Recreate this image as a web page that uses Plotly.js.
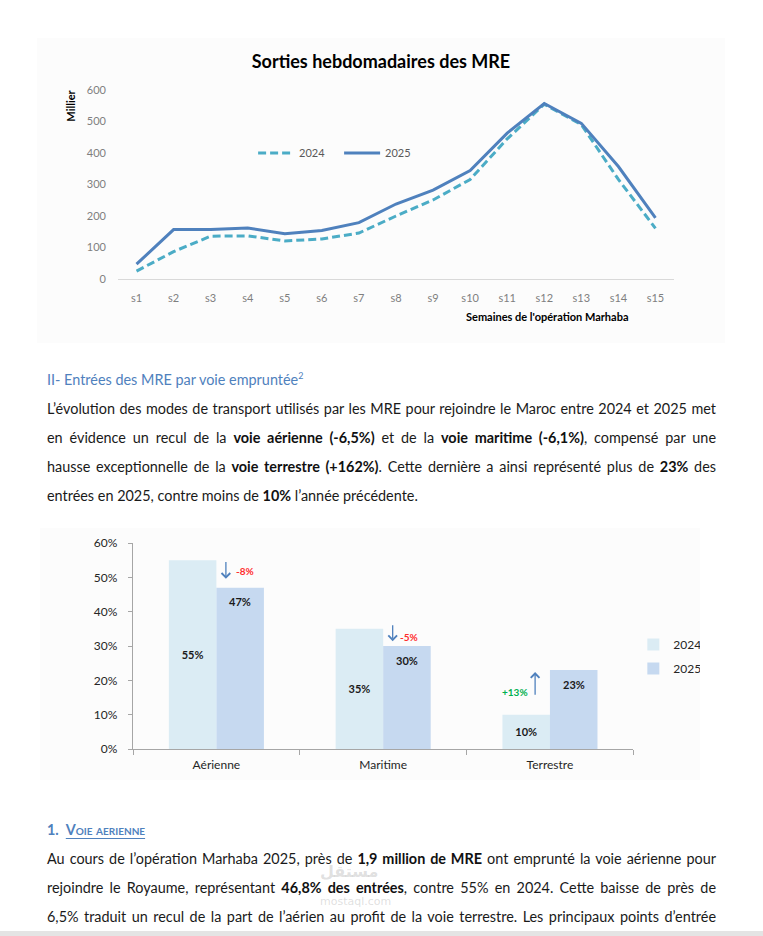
<!DOCTYPE html>
<html><head><meta charset="utf-8">
<script src="https://cdn.plot.ly/plotly-3.0.1.min.js"></script>
<style>
html,body{margin:0;padding:0;background:#fff;}
body{width:763px;height:936px;overflow:hidden;position:relative;font-family:Lato,'Open Sans',sans-serif;}
.ln{position:absolute;left:47px;width:669px;font-size:15px;line-height:29px;color:#1a1a1a;}
.j{text-align:justify;text-align-last:justify;}
.ln b{font-weight:700;color:#111;}
#c1{position:absolute;left:37px;top:38px;width:688px;height:305px;}
#c2{position:absolute;left:40px;top:528px;width:660px;height:252px;}
.h2{position:absolute;left:47px;font-size:15px;line-height:29px;color:#4f81bd;}
.h2 sup{font-size:9px;vertical-align:6px;line-height:0;}
.h3{position:absolute;left:47px;font-size:15px;line-height:29px;color:#4f81bd;font-weight:700;}
.h3 .sc{margin-left:7px;font-variant:small-caps;text-decoration:underline;text-underline-offset:3px;}
.wm{position:absolute;left:320px;top:864px;width:58px;color:rgba(150,150,150,0.3);font-family:'DejaVu Sans',sans-serif;text-align:center;}
.wm .a{position:absolute;left:0;top:0;width:58px;font-size:16px;line-height:16px;font-weight:bold;}
.wm .b{position:absolute;left:0;top:32px;width:58px;font-size:11px;line-height:11px;}
.strip{position:absolute;left:0;top:931px;width:763px;height:5px;background:#e4e4e4;}
</style>
</head><body>
<div id="c1"></div>

<div class="h2" style="top:365px;">II- Entrées des MRE par voie empruntée<sup>2</sup></div>
<div class="ln j" style="top:394px;">L’évolution des modes de transport utilisés par les MRE pour rejoindre le Maroc entre 2024 et 2025 met</div>
<div class="ln j" style="top:423px;">en évidence un recul de la <b>voie aérienne (-6,5%)</b> et de la <b>voie maritime (-6,1%)</b>, compensé par une</div>
<div class="ln j" style="top:452px;">hausse exceptionnelle de la <b>voie terrestre (+162%)</b>. Cette dernière a ainsi représenté plus de <b>23%</b> des</div>
<div class="ln" style="top:481px;"><span id="ref">entrées en 2025, contre moins de <b>10%</b> l’année précédente.</span></div>

<div id="c2"></div>

<div class="h3" style="top:815px;">1.<span class="sc">Voie aerienne</span></div>
<div class="ln j" style="top:844px;">Au cours de l’opération Marhaba 2025, près de <b>1,9 million de MRE</b> ont emprunté la voie aérienne pour</div>
<div class="ln j" style="top:873px;">rejoindre le Royaume, représentant <b>46,8% des entrées</b>, contre 55% en 2024. Cette baisse de près de</div>
<div class="ln j" style="top:902px;">6,5% traduit un recul de la part de l’aérien au profit de la voie terrestre. Les principaux points d’entrée</div>
<div class="wm"><div class="a">مستقل</div><div class="b">mostaql.com</div></div>
<div class="strip"></div>

<script>
// ---- Data: chart 1 (weekly exits, thousands) ----
const weeks = ['s1','s2','s3','s4','s5','s6','s7','s8','s9','s10','s11','s12','s13','s14','s15'];
const sorties2024 = [25, 87, 136, 137, 121, 127, 146, 200, 251, 316, 445, 555, 490, 316, 161];
const sorties2025 = [47, 157, 157, 162, 144, 154, 179, 238, 282, 344, 463, 557, 494, 357, 194];
const seriesNames = ['2024', '2025'];

// ---- Data: chart 2 (share of entries by mode) ----
const modes = ['Aérienne', 'Maritime', 'Terrestre'];
const part2024 = [0.55, 0.35, 0.10];
const part2025 = [0.47, 0.30, 0.23];
const variations = ['-8%', '-5%', '+13%'];

const F = "Lato, 'Open Sans', sans-serif";

// fit body font to reference line width
(function(){
  const ref = document.getElementById('ref');
  const w = ref.getBoundingClientRect().width;
  const fs = 15 * 371 / w;
  document.querySelectorAll('.ln,.h2,.h3').forEach(el => el.style.fontSize = fs + 'px');
  document.querySelectorAll('.ln.j').forEach(el => {
    const probe = el.cloneNode(true);
    probe.style.cssText += ';width:auto;white-space:nowrap;visibility:hidden;text-align:left;text-align-last:auto;';
    document.body.appendChild(probe);
    const nw = probe.getBoundingClientRect().width;
    const n = probe.textContent.length;
    probe.remove();
    if (nw > 667) el.style.letterSpacing = ((667 - nw) / n) + 'px';
  });
})();

Plotly.newPlot('c1', [
  {x: weeks, y: sorties2024, name: seriesNames[0], type: 'scatter', mode: 'lines',
   line: {color: '#4bacc6', width: 3, dash: '8px,4px'}},
  {x: weeks, y: sorties2025, name: seriesNames[1], type: 'scatter', mode: 'lines',
   line: {color: '#4f81bd', width: 3}}
], {
  width: 688, height: 305,
  paper_bgcolor: '#fcfcfc', plot_bgcolor: 'rgba(0,0,0,0)',
  margin: {l: 81, r: 51, t: 52, b: 64},
  font: {family: F, color: '#7f7f7f', size: 11},
  title: {text: '<b>Sorties hebdomadaires des MRE</b>', font: {family: F, size: 18, color: '#000'},
          x: 0.5, xanchor: 'center', y: 1 - 24/305, yanchor: 'middle', yref: 'container'},
  xaxis: {type: 'category', range: [-0.5, 14.5], showline: true, linecolor: '#d9d9d9', linewidth: 1,
          showgrid: false, zeroline: false, ticks: '', ticklabelstandoff: 9, tickfont: {size: 11, color: '#7f7f7f'}},
  yaxis: {range: [0, 600], dtick: 100, showgrid: false, zeroline: false, showline: false,
          ticks: '', ticklabelstandoff: 11, tickfont: {size: 11, color: '#7f7f7f'}},
  legend: {orientation: 'h', x: 0.243, y: 0.667, xanchor: 'left', yanchor: 'middle',
           bgcolor: 'rgba(0,0,0,0)', font: {family: F, size: 11, color: '#595959'},
           entrywidth: 35, entrywidthmode: 'pixels', itemwidth: 36},
  annotations: [
    {text: '<b>Millier</b>', textangle: -90, xref: 'paper', yref: 'paper', x: -0.087, y: 0.915,
     xanchor: 'center', yanchor: 'middle', showarrow: false, font: {family: F, size: 11, color: '#000'}},
    {text: "<b>Semaines de l'opération Marhaba</b>", xref: 'paper', yref: 'paper', x: 0.772, y: -0.201,
     xanchor: 'center', yanchor: 'middle', showarrow: false, font: {family: F, size: 11, color: '#000'}}
  ]
}, {staticPlot: true, displayModeBar: false});

// ---- chart 2 ----
const half = 0.1425; // half bar-width offset in category units (layout)
const arrowColor = '#4f81bd';
const ann2 = [];
modes.forEach((m, i) => {
  ann2.push({x: i + half, y: part2025[i], xref: 'x', yref: 'y', yshift: -14,
    text: '<b>' + Math.round(part2025[i]*100) + '%</b>', showarrow: false,
    font: {family: F, size: 11, color: '#1a1a1a'}});
  const up = part2025[i] > part2024[i];
  const ax = up ? i - 0.089 : i + 0.057;
  const tail = up ? part2024[i] + 0.054 : part2024[i] - 0.001 + (i === 1 ? 0.016 : 0);
  const head = up ? part2025[i] - 0.006 : part2025[i] + (i === 1 ? 0.014 : 0.026);
  ann2.push({x: ax, y: head, ax: ax, ay: tail, xref: 'x', yref: 'y', axref: 'x', ayref: 'y',
    showarrow: true, arrowhead: 4, arrowsize: 1.3, arrowwidth: 1.3, arrowcolor: arrowColor, text: ''});
  ann2.push({x: up ? i - 0.211 : i + (i === 1 ? 0.154 : 0.172),
    y: up ? part2024[i] + 0.066 : (i === 1 ? part2025[i] + 0.026 : part2025[i] + 0.048),
    xref: 'x', yref: 'y', text: '<b>' + variations[i] + '</b>', showarrow: false,
    font: {family: F, size: 10, color: up ? '#00b050' : '#ff2d2d'}});
});

Plotly.newPlot('c2', [
  {x: modes, y: part2024, name: seriesNames[0], type: 'bar', marker: {color: '#dbecf4'},
   texttemplate: '<b>%{y:.0%}</b>', textposition: 'inside', insidetextanchor: 'middle', textangle: 0,
   constraintext: 'none', insidetextfont: {family: F, size: 11, color: '#1a1a1a'}, legendgroup: 'a'},
  {x: modes, y: part2025, name: seriesNames[1], type: 'bar', marker: {color: '#c6d9f0'},
   textposition: 'none', legendgroup: 'b'}
], {
  width: 660, height: 252,
  paper_bgcolor: '#fcfcfc', plot_bgcolor: 'rgba(0,0,0,0)',
  margin: {l: 93, r: 62, t: 15, b: 31},
  font: {family: F, color: '#262626', size: 12},
  barmode: 'group', bargap: 0.43, bargroupgap: 0,
  showlegend: true,
  xaxis: {type: 'category', showline: true, linecolor: '#a6a6a6', linewidth: 1.3, showgrid: false, zeroline: false,
          ticks: 'outside', tickson: 'boundaries', ticklen: 5, tickcolor: '#a6a6a6', ticklabelstandoff: 4,
          tickfont: {size: 12, color: '#262626'}},
  yaxis: {range: [0, 0.6], dtick: 0.1, tickformat: '.0%', showline: true, linecolor: '#a6a6a6', linewidth: 1.3,
          showgrid: false, zeroline: false, ticks: 'outside', ticklen: 4, tickcolor: '#a6a6a6',
          ticklabelstandoff: 8, tickfont: {size: 12, color: '#262626'}},
  legend: {xref: 'container', yref: 'container', x: 0.899, y: 0.49, xanchor: 'left', yanchor: 'middle',
           orientation: 'v', tracegroupgap: 5, itemwidth: 30, bgcolor: 'rgba(0,0,0,0)',
           font: {family: F, size: 12, color: '#262626'}},
  annotations: ann2
}, {staticPlot: true, displayModeBar: false});
</script>
</body></html>
